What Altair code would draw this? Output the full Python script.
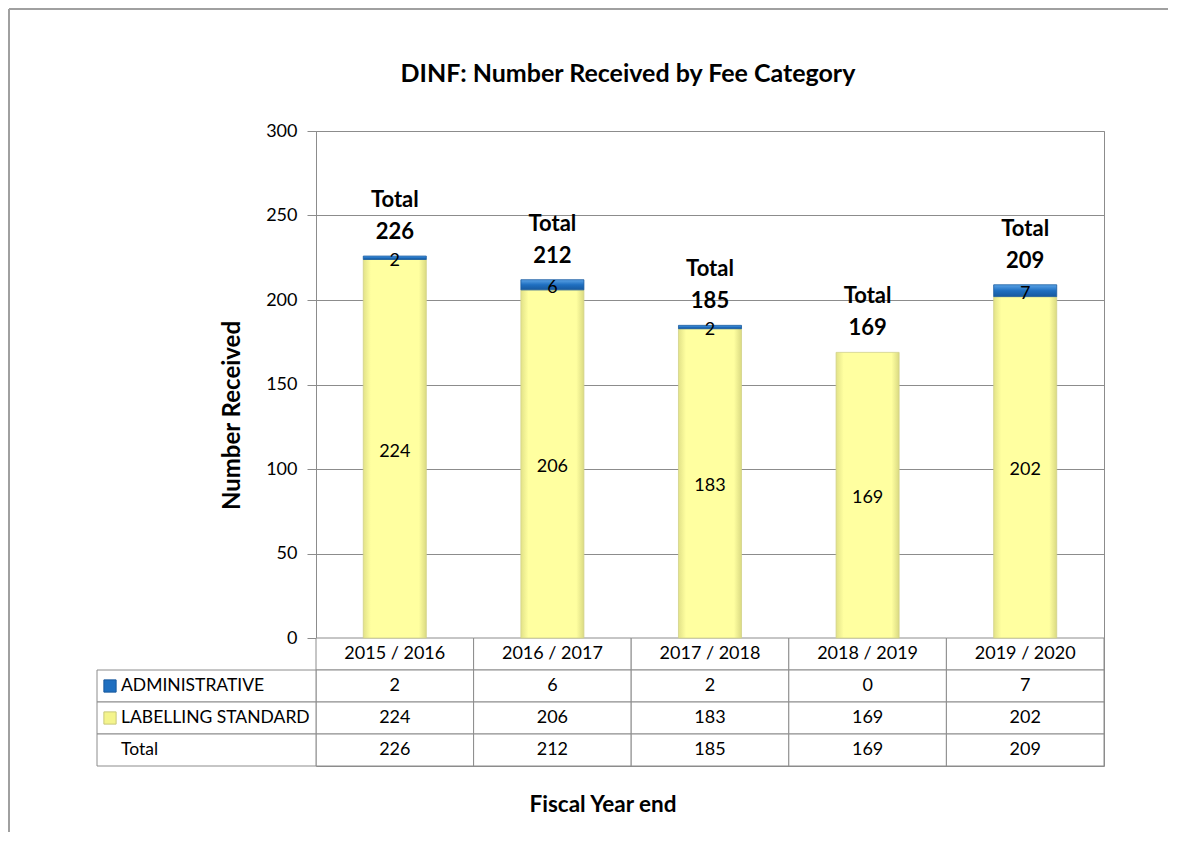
import altair as alt
import pandas as pd

# ---------------- data ----------------
years = ["2015 / 2016", "2016 / 2017", "2017 / 2018", "2018 / 2019", "2019 / 2020"]
administrative = [2, 6, 2, 0, 7]
labelling_standard = [224, 206, 183, 169, 202]
totals = [226, 212, 185, 169, 209]
series_names = ["ADMINISTRATIVE", "LABELLING STANDARD"]
y_ticks = [0, 50, 100, 150, 200, 250, 300]
chart_title = "DINF: Number Received by Fee Category"
x_title = "Fiscal Year end"
y_title = "Number Received"

# ---------------- style / layout ----------------
FONT = "Lato"
GRID = "#8C8C8C"
PLOT_W = 788
BAR_H = 507
ROW_H = 32
PLOT_H = BAR_H + 4 * ROW_H
BLUE = "#1F6FC0"

yellow_grad = alt.LinearGradient(
    gradient="linear", x1=0, x2=1, y1=0, y2=0,
    stops=[alt.GradientStop(color="#E2E288", offset=0),
           alt.GradientStop(color="#FFFFA0", offset=0.12),
           alt.GradientStop(color="#FFFFA0", offset=0.88),
           alt.GradientStop(color="#DADA82", offset=1)])
blue_grad = alt.LinearGradient(
    gradient="linear", x1=0, x2=0, y1=0, y2=1,
    stops=[alt.GradientStop(color="#5BA3E6", offset=0),
           alt.GradientStop(color="#1F6FC0", offset=0.5),
           alt.GradientStop(color="#17599E", offset=1)])

# ---------------- derived tables ----------------
lab_df = pd.DataFrame({"year": years, "y0": [0] * len(years),
                       "y1": labelling_standard, "value": labelling_standard})
lab_df["mid"] = (lab_df["y0"] + lab_df["y1"]) / 2
adm_df = pd.DataFrame({"year": years, "y0": labelling_standard,
                       "y1": [l + a for l, a in zip(labelling_standard, administrative)],
                       "value": administrative})
adm_df["mid"] = (adm_df["y0"] + adm_df["y1"]) / 2
adm_df = adm_df[adm_df["value"] > 0]
seg_df = pd.concat([lab_df, adm_df])
tot_df = pd.DataFrame({"year": years, "total": totals,
                       "label": [f"Total\n{t}" for t in totals]})

row_domain = ["header"] + series_names + ["Total"]
rows = []
for i, yr in enumerate(years):
    rows.append({"year": yr, "row": "header", "text": yr})
    rows.append({"year": yr, "row": "ADMINISTRATIVE", "text": str(administrative[i])})
    rows.append({"year": yr, "row": "LABELLING STANDARD", "text": str(labelling_standard[i])})
    rows.append({"year": yr, "row": "Total", "text": str(totals[i])})
tbl_df = pd.DataFrame(rows)
lbl_df = pd.DataFrame({"row": series_names + ["Total"], "text": series_names + ["Total"]})
sw_df = pd.DataFrame({"row": series_names})
one = pd.DataFrame({"a": [0]})

# ---------------- scales / axes ----------------
x_scale = alt.Scale(domain=years, paddingInner=0, paddingOuter=0)
y_scale = alt.Scale(domain=[0, 300], range=[BAR_H, 0], nice=False)
row_scale = alt.Scale(domain=row_domain, range=[BAR_H, PLOT_H], paddingInner=0, paddingOuter=0)
y_axis = alt.Axis(values=y_ticks, grid=True, gridColor=GRID, gridWidth=1,
                  domainColor=GRID, tickColor=GRID, tickSize=9, labelPadding=10,
                  labelFont=FONT, labelFontSize=18, labelColor="black",
                  title=y_title, titleFont=FONT, titleFontSize=24, titleFontWeight="bold",
                  titleColor="black", titleAngle=270, titleX=-84, titleY=284,
                  titleAlign="center", titleBaseline="middle")

X = alt.X("year:N", sort=years, scale=x_scale, axis=None)

# ---------------- bars ----------------
bar_lab = alt.Chart(lab_df).mark_bar(width=alt.RelativeBandSize(0.4), color=yellow_grad,
                                     stroke="#D2D288", strokeWidth=0.8).encode(
    x=X, y=alt.Y("y0:Q", scale=y_scale, axis=y_axis), y2="y1:Q")
bar_adm = alt.Chart(adm_df).mark_bar(width=alt.RelativeBandSize(0.4), color=blue_grad,
                                     stroke="#17599E", strokeWidth=0.8).encode(
    x=X, y=alt.Y("y0:Q", scale=y_scale, axis=y_axis), y2="y1:Q")
seg_text = alt.Chart(seg_df).mark_text(font=FONT, fontSize=18, color="black",
                                       baseline="middle", dy=3).encode(
    x=X, y=alt.Y("mid:Q", scale=y_scale, axis=y_axis), text="value:Q")
tot_text = alt.Chart(tot_df).mark_text(font=FONT, fontSize=22, fontWeight="bold", color="black",
                                       lineBreak="\n", lineHeight=32, baseline="middle",
                                       dy=-56).encode(
    x=X, y=alt.Y("total:Q", scale=y_scale, axis=y_axis), text="label:N")
bars = alt.layer(bar_lab, bar_adm, seg_text, tot_text)

# ---------------- data table ----------------
Yrow = alt.Y("row:N", scale=row_scale, axis=None)
cells = alt.Chart(tbl_df).mark_rect(fill="white", stroke=GRID, strokeWidth=1).encode(x=X, y=Yrow)
cell_text = alt.Chart(tbl_df).mark_text(font=FONT, fontSize=18, color="black",
                                        baseline="middle").encode(x=X, y=Yrow, text="text:N")
lab_cells = alt.Chart(lbl_df).mark_rect(fill="white", stroke=GRID, strokeWidth=1).encode(
    x=alt.value(-219), x2=alt.value(0), y=Yrow)
lab_text = alt.Chart(lbl_df).mark_text(font=FONT, fontSize=17.5, color="black", align="left",
                                       baseline="middle").encode(
    x=alt.value(-195), y=Yrow, text="text:N")
swatch = alt.Chart(sw_df).mark_point(shape="square", filled=True, size=150, opacity=1,
                                     strokeWidth=1).encode(
    x=alt.value(-206), y=Yrow,
    color=alt.Color("row:N", scale=alt.Scale(domain=series_names, range=[BLUE, "#F4F48C"]),
                    legend=None),
    stroke=alt.Stroke("row:N", scale=alt.Scale(domain=series_names, range=["#17599E", "#C8C87A"]),
                      legend=None))
table = alt.layer(cells, lab_cells, cell_text, lab_text, swatch)

# ---------------- frame and titles ----------------
frame_left = alt.Chart(one).mark_rule(color="#A0A0A0", strokeWidth=2).encode(
    x=alt.value(-307), y=alt.value(-122), y2=alt.value(PLOT_H + 80))
frame_top = alt.Chart(one).mark_rule(color="#A0A0A0", strokeWidth=2).encode(
    x=alt.value(-307), x2=alt.value(PLOT_W + 64), y=alt.value(-122))
title = alt.Chart(one).mark_text(text=chart_title, font=FONT, fontSize=25, fontWeight="bold",
                                 color="black", align="center", baseline="middle").encode(
    x=alt.value(312), y=alt.value(-57))
xtitle = alt.Chart(one).mark_text(text=x_title, font=FONT, fontSize=22.5, fontWeight="bold",
                                  color="black", align="center", baseline="middle").encode(
    x=alt.value(287), y=alt.value(674))

chart = alt.layer(frame_left, frame_top, table, bars, title, xtitle).resolve_scale(
    y="independent", color="independent", stroke="independent"
).properties(
    width=PLOT_W, height=PLOT_H,
    autosize=alt.AutoSizeParams(type="none"),
    padding={"left": 308, "top": 123, "right": 68, "bottom": 66},
    background="white",
).configure_view(stroke=GRID, strokeWidth=1)

chart.save("out.html", embed_options={"renderer": "svg", "actions": False})
